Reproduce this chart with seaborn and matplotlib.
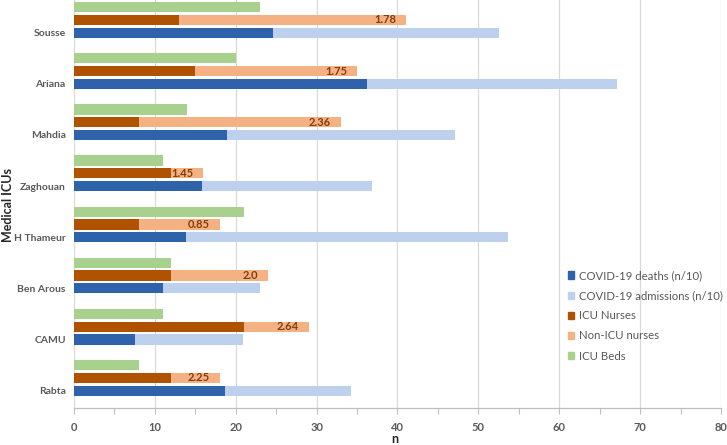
import matplotlib
matplotlib.use("Agg")
import matplotlib.pyplot as plt
from matplotlib.patches import Patch
from matplotlib.ticker import MultipleLocator
import seaborn as sns
import pandas as pd

# Data (top to bottom)
icus = ['Sousse', 'Ariana', 'Mahdia', 'Zaghouan', 'H Thameur', 'Ben Arous', 'CAMU', 'Rabta']
covid_deaths = [24.6, 36.2, 18.9, 15.8, 13.8, 11.0, 7.5, 18.7]
covid_admissions = [28.0, 31.0, 28.2, 21.0, 39.9, 12.0, 13.4, 15.6]
icu_nurses = [13, 15, 8, 12, 8, 12, 21, 12]
non_icu_nurses = [28, 20, 25, 4, 10, 12, 8, 6]
icu_beds = [23, 20, 14, 11, 21, 12, 11, 8]
nurse_ratio = ['1.78', '1.75', '2.36', '1.45', '0.85', '2.0', '2.64', '2.25']

# Colours
c_deaths = '#2E63AC'
c_adm = '#BDD0EE'
c_icu = '#B05300'
c_nonicu = '#F4B183'
c_beds = '#A9D18E'
text_gray = '#595959'

sns.set_theme(style='white')
plt.rcParams['font.family'] = ['Lato', 'DejaVu Sans']

df = pd.DataFrame({
    'icu': icus,
    'deaths': covid_deaths,
    'admissions': covid_admissions,
    'icu_nurses': icu_nurses,
    'non_icu': non_icu_nurses,
    'beds': icu_beds,
    'ratio': nurse_ratio,
})
df['pos'] = range(len(df))
df['covid_total'] = df['deaths'] + df['admissions']
df['nurse_total'] = df['icu_nurses'] + df['non_icu']
df['pos_blue'] = df['pos'] + 0.0
df['pos_orange'] = df['pos'] - 0.25
df['pos_green'] = df['pos'] - 0.5

fig = plt.figure(figsize=(7.27, 4.45), dpi=100)
ax = fig.add_axes([0.1018, 0.0831, 0.8899, 0.9169])

bar_w = 0.2
common = dict(orient='h', native_scale=True, errorbar=None, width=bar_w,
              ax=ax, linewidth=0, saturation=1)

# COVID (stacked: total first, then deaths on top)
sns.barplot(data=df, x='covid_total', y='pos_blue', color=c_adm, **common)
sns.barplot(data=df, x='deaths', y='pos_blue', color=c_deaths, **common)
# Nurses
sns.barplot(data=df, x='nurse_total', y='pos_orange', color=c_nonicu, **common)
sns.barplot(data=df, x='icu_nurses', y='pos_orange', color=c_icu, **common)
# Beds
sns.barplot(data=df, x='beds', y='pos_green', color=c_beds, **common)

# Ratio labels inside the end of the nurse bar
for _, r in df.iterrows():
    ax.annotate(r['ratio'], xy=(r['nurse_total'], r['pos_orange']),
                xytext=(-7, 0), textcoords='offset points',
                ha='right', va='center', fontsize=8, fontweight='bold',
                color='#843C0C')

ax.set_ylim(len(df) - 1 + 0.34, -0.64)
ax.set_yticks(df['pos'])
ax.set_yticklabels(icus, fontsize=7.5, fontweight='bold', color=text_gray)

ax.set_xlim(0, 80)
ax.xaxis.set_major_locator(MultipleLocator(10))
ax.xaxis.set_minor_locator(MultipleLocator(5))
ax.tick_params(axis='x', which='both', bottom=True, length=4, width=0.8,
               color='#bfbfbf', labelsize=8, labelcolor=text_gray, pad=6)
for lbl in ax.get_xticklabels():
    lbl.set_fontweight('bold')
ax.tick_params(axis='y', length=0, pad=6)

ax.grid(axis='x', color='#d9d9d9', linewidth=0.9)
ax.set_axisbelow(True)
for s in ['top', 'right', 'left']:
    ax.spines[s].set_visible(False)
ax.spines['bottom'].set_color('#bfbfbf')
ax.spines['bottom'].set_linewidth(0.9)

ax.set_xlabel('n', fontsize=9, fontweight='bold', color='#262626')
ax.xaxis.set_label_coords(0.496, -0.06)
ax.set_ylabel('Medical ICUs', fontsize=9, fontweight='bold', color='#262626')
ax.yaxis.set_label_coords(-0.092, 0.497)

handles = [
    Patch(color=c_deaths, label='COVID-19 deaths (n/10)'),
    Patch(color=c_adm, label='COVID-19 admissions (n/10)'),
    Patch(color=c_icu, label='ICU Nurses'),
    Patch(color=c_nonicu, label='Non-ICU nurses'),
    Patch(color=c_beds, label='ICU Beds'),
]
leg = ax.legend(handles=handles, loc='upper left', bbox_to_anchor=(0.763, 0.338),
                frameon=False, fontsize=8.2, handlelength=0.6, handleheight=0.6,
                handletextpad=0.4, labelspacing=0.8, borderaxespad=0, borderpad=0)
for t in leg.get_texts():
    t.set_color(text_gray)

fig.savefig('out.png', dpi=100)
